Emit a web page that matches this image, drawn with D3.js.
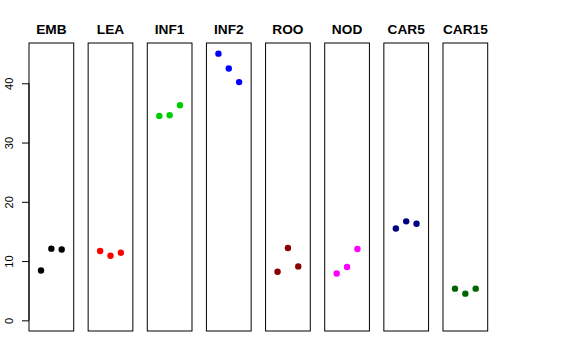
<!DOCTYPE html>
<html>
<head>
<meta charset="utf-8">
<script src="https://cdn.jsdelivr.net/npm/d3@7"></script>
<style>
  body { margin: 0; background: #fff; }
  svg { display: block; }
</style>
</head>
<body>
<svg id="fig" width="576" height="360"></svg>
<script>
// groups and their three measured values
const groups = ["EMB", "LEA", "INF1", "INF2", "ROO", "NOD", "CAR5", "CAR15"];
const colors = ["#000000", "#ff0000", "#00cd00", "#0000ff", "#8b0000", "#ff00ff", "#000080", "#006400"];
const values = [
    [8.4, 12.1, 11.95],
    [11.7, 10.9, 11.4],
    [34.5, 34.6, 36.3],
    [45.0, 42.5, 40.2],
    [8.2, 12.2, 9.1],
    [7.9, 9.0, 12.05],
    [15.5, 16.7, 16.3],
    [5.35, 4.5, 5.35]
];
const yTicks = [0, 10, 20, 30, 40];

const svg = d3.select("#fig");
const plotTop = 43, plotBottom = 331;

let panelScale = d3.scaleBand()
    .domain(groups)
    .range([29, 487.7])
    .paddingInner(0.244)
    .paddingOuter(0);

// R style 4% expansion of [0, 45]
let yScale = d3.scaleLinear()
    .domain([-1.8, 46.8])
    .range([plotBottom, plotTop]);

// points inside a panel sit at 1,2,3 with xlim [0,4]
let xScale = d3.scaleLinear()
    .domain([-0.16, 4.16])
    .range([0, panelScale.bandwidth()]);

groups.forEach((g, i) => {
    const p = svg.append("g")
        .attr("transform", `translate(${panelScale(g)},0)`);

    p.append("rect")
        .attr("x", 0)
        .attr("y", plotTop)
        .attr("width", panelScale.bandwidth())
        .attr("height", plotBottom - plotTop)
        .attr("fill", "none")
        .attr("stroke", "#000")
        .attr("stroke-width", 1);

    p.append("text")
        .attr("x", panelScale.bandwidth() / 2)
        .attr("y", 34)
        .attr("text-anchor", "middle")
        .attr("font-family", "Liberation Sans, Arial, sans-serif")
        .attr("font-weight", "bold")
        .attr("font-size", 13.7)
        .text(g);

    p.selectAll("circle")
        .data(values[i])
        .join("circle")
        .attr("cx", (d, j) => xScale(j + 1))
        .attr("cy", d => yScale(d))
        .attr("r", 3.2)
        .attr("fill", colors[i]);
});

// left axis, R style
const x0 = panelScale(groups[0]);
const yAxis = d3.axisLeft(yScale)
    .tickValues(yTicks)
    .tickSize(7)
    .tickPadding(0)
    .tickFormat(d3.format("d"));

const ax = svg.append("g")
    .attr("transform", `translate(${x0},0)`)
    .call(yAxis);

ax.select(".domain")
    .attr("d", `M0,${yScale(0)}V${yScale(40)}`)
    .attr("stroke", "#000");
ax.selectAll(".tick line").attr("stroke", "#000");
ax.selectAll(".tick text")
    .attr("font-family", "Liberation Sans, Arial, sans-serif")
    .attr("font-size", 11)
    .attr("fill", "#000")
    .attr("text-anchor", "middle")
    .attr("dy", null)
    .attr("x", null)
    .attr("transform", "translate(-16.5,0) rotate(-90)");
</script>
</body>
</html>
